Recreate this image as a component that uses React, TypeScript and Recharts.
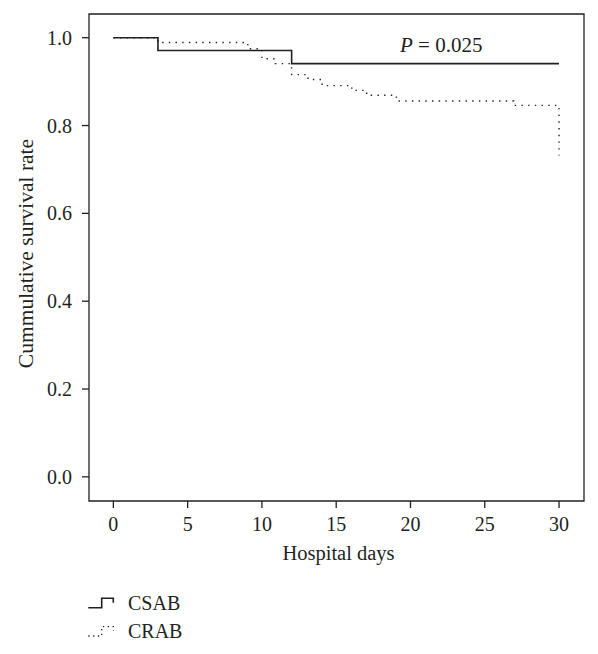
import React from 'react';
import { LineChart, Line, XAxis, YAxis, ReferenceArea, ReferenceDot, Legend } from 'recharts';

// ---- data ----
const csabDays = [0, 3, 12, 30];
const csabSurvival = [1.0, 0.971, 0.941, 0.941];
const crabDays = [0, 3, 9.05, 10, 10.9, 12, 13.1, 14.05, 16.05, 17.05, 19.05, 26.95, 30];
const crabSurvival = [1.0, 0.989, 0.975, 0.952, 0.941, 0.916, 0.905, 0.891, 0.88, 0.869, 0.856, 0.846, 0.732];
const xTicks = [0, 5, 10, 15, 20, 25, 30];
const yTicks = [0, 0.2, 0.4, 0.6, 0.8, 1.0];
const seriesNames = ['CSAB', 'CRAB'];
const xLabel = 'Hospital days';
const yLabel = 'Cummulative survival rate';
const pValueLabel = '0.025';

// ---- layout / style ----
const X_DOMAIN: [number, number] = [-1.64, 31.68];
const Y_DOMAIN: [number, number] = [-0.055, 1.054];
const P_ANCHOR = { x: 22.07, y: 0.967 };
const FONT = '"Liberation Serif", "Times New Roman", serif';
const INK = '#231f20';
const FS = 20;

const csabData = csabDays.map((t, i) => ({ t, s: csabSurvival[i] }));
const crabData = crabDays.map((t, i) => ({ t, s: crabSurvival[i] }));

const XLabelContent = (props: any) => {
  const vb = props.viewBox;
  return (
    <text x={vb.x + vb.width / 2 + 2} y={vb.y + 59} textAnchor="middle" fontFamily={FONT} fontSize={FS + 0.5} fill={INK}>
      {xLabel}
    </text>
  );
};

const YLabelContent = (props: any) => {
  const vb = props.viewBox;
  const cx = vb.x + 33;
  const cy = vb.y + vb.height / 2 - 4;
  return (
    <text transform={`translate(${cx}, ${cy}) rotate(-90)`} textAnchor="middle" fontFamily={FONT} fontSize={21.5} fill={INK}>
      {yLabel}
    </text>
  );
};

const PLabelContent = (props: any) => {
  const vb = props.viewBox;
  const cx = vb.x + (vb.width || 0) / 2;
  const cy = vb.y + (vb.height || 0) / 2;
  return (
    <text x={cx} y={cy} textAnchor="middle" fontFamily={FONT} fontSize={FS + 1} fill={INK}>
      <tspan fontStyle="italic">P</tspan>
      <tspan> = {pValueLabel}</tspan>
    </text>
  );
};

const renderLegend = () => (
  <svg width={160} height={64} style={{ display: 'block' }}>
    {seriesNames.map((name, i) => {
      const oy = i * 28.3;
      const dotted = i === 1;
      return (
        <g key={name}>
          <path
            d={`M8.3,${19.7 + oy} H21.7 V${10.3 + oy} H33.3 V${14.8 + oy}`}
            fill="none"
            stroke={INK}
            strokeWidth={dotted ? 1.3 : 1.6}
            strokeDasharray={dotted ? '1.3 3.5' : undefined}
          />
          <text x={48} y={22 + oy} fontFamily={FONT} fontSize={FS} fill={INK}>
            {name}
          </text>
        </g>
      );
    })}
  </svg>
);

export default function App() {
  const tickStyle = { fontFamily: FONT, fontSize: FS, fill: INK };
  return (
    <div style={{ position: 'absolute', left: 0, top: 0, width: 598, height: 654, background: '#fff' }}>
      <LineChart width={598} height={654} margin={{ top: 14, right: 14, left: 0, bottom: 83 }}>
        <XAxis
          type="number"
          dataKey="t"
          domain={X_DOMAIN}
          ticks={xTicks}
          allowDataOverflow
          axisLine={false}
          tickLine={{ stroke: INK, strokeWidth: 1.3 }}
          tickSize={7}
          tickMargin={9}
          tick={tickStyle}
          height={70}
          interval={0}
          label={{ content: XLabelContent }}
        />
        <YAxis
          type="number"
          dataKey="s"
          domain={Y_DOMAIN}
          ticks={yTicks}
          allowDataOverflow
          axisLine={false}
          tickLine={{ stroke: INK, strokeWidth: 1.3 }}
          tickSize={7}
          tickMargin={10}
          tick={tickStyle}
          tickFormatter={(v: number) => v.toFixed(1)}
          width={89}
          interval={0}
          label={{ content: YLabelContent }}
        />
        <ReferenceArea
          x1={X_DOMAIN[0]}
          x2={X_DOMAIN[1]}
          y1={Y_DOMAIN[0]}
          y2={Y_DOMAIN[1]}
          fill="none"
          fillOpacity={0}
          stroke={INK}
          strokeWidth={1.3}
        />
        <Line
          data={csabData}
          dataKey="s"
          name={seriesNames[0]}
          type="stepAfter"
          stroke={INK}
          strokeWidth={1.6}
          dot={false}
          activeDot={false}
          isAnimationActive={false}
        />
        <Line
          data={crabData}
          dataKey="s"
          name={seriesNames[1]}
          type="stepAfter"
          stroke={INK}
          strokeWidth={1.4}
          strokeDasharray="1.4 5.3"
          dot={false}
          activeDot={false}
          isAnimationActive={false}
        />
        <ReferenceDot
          x={P_ANCHOR.x}
          y={P_ANCHOR.y}
          r={1}
          fill="none"
          stroke="none"
          label={{ content: PLabelContent }}
        />
        <Legend
          layout="vertical"
          align="center"
          verticalAlign="middle"
          wrapperStyle={{ left: 80, top: 588, width: 160, height: 64 }}
          content={renderLegend}
        />
      </LineChart>
    </div>
  );
}
